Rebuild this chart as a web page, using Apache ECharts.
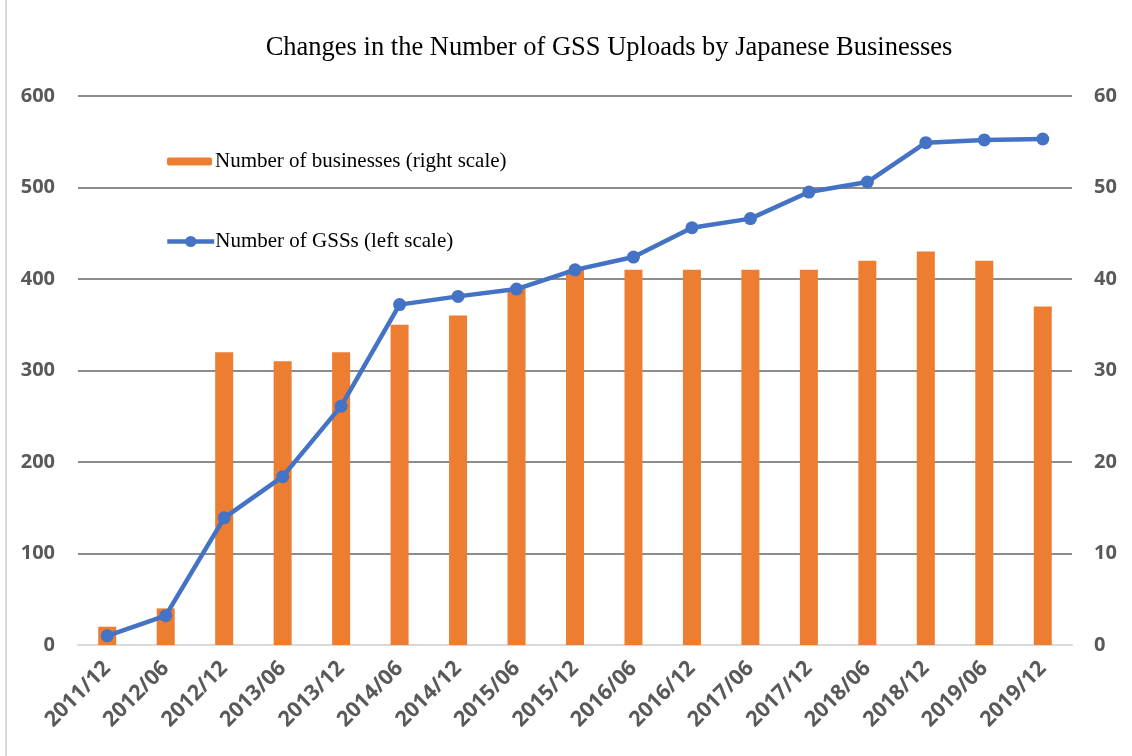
<!DOCTYPE html>
<html>
<head>
<meta charset="utf-8">
<script src="https://cdn.jsdelivr.net/npm/echarts@6/dist/echarts.min.js"></script>
<style>
  html, body { margin: 0; padding: 0; background: #fff; }
  #frame { position: absolute; left: 5px; top: 0; width: 1127px; height: 756px; border-left: 2px solid #d9d9d9; box-sizing: border-box; }
  #chart { width: 1132px; height: 756px; }
</style>
</head>
<body>
<div id="frame"></div>
<div id="chart"></div>
<script>
const categories = [
  "2011/12", "2012/06", "2012/12", "2013/06", "2013/12", "2014/06",
  "2014/12", "2015/06", "2015/12", "2016/06", "2016/12", "2017/06",
  "2017/12", "2018/06", "2018/12", "2019/06", "2019/12"
];
// right scale
const businesses = [2, 4, 32, 31, 32, 35, 36, 39, 41, 41, 41, 41, 41, 42, 43, 42, 37];
// left scale
const gssCounts = [10, 32, 139, 184, 261, 372, 381, 389, 410, 424, 456, 466, 495, 506, 549, 552, 553];

const labelColor = "#595959";
const labelFont = { color: labelColor, fontSize: 20, fontWeight: "bold", fontFamily: "Open Sans, Liberation Sans, sans-serif" };
const serifText = { fontFamily: "Liberation Serif, serif", fontSize: 21, color: "#000" };

const chart = echarts.init(document.getElementById("chart"));

chart.setOption({
  animation: false,
  title: {
    text: "Changes in the Number of GSS Uploads by Japanese Businesses",
    left: 604,
    textAlign: "center",
    top: 30,
    textStyle: { fontFamily: "Liberation Serif, serif", fontSize: 26.5, fontWeight: "normal", color: "#000" }
  },
  legend: [
    {
      data: ["Number of businesses (right scale)"],
      left: 162,
      top: 146,
      itemWidth: 45,
      itemHeight: 8,
      itemGap: 0,
      textStyle: Object.assign({ padding: [0, 0, 0, -2] }, serifText)
    },
    {
      data: ["Number of GSSs (left scale)"],
      left: 160,
      top: 226,
      itemWidth: 47,
      itemHeight: 14,
      itemGap: 0,
      lineStyle: { width: 4.5 },
      textStyle: Object.assign({ padding: [0, 0, 0, -4] }, serifText)
    }
  ],
  grid: { left: 78, right: 60, top: 96, bottom: 111 },
  xAxis: {
    type: "category",
    data: categories,
    axisLine: { lineStyle: { color: "#d9d9d9", width: 2 } },
    axisTick: { show: false },
    axisLabel: Object.assign({ rotate: 45, margin: 20, interval: 0 }, labelFont, { fontSize: 21.5 })
  },
  yAxis: [
    {
      type: "value",
      min: 0,
      max: 600,
      interval: 100,
      axisLine: { show: false },
      axisTick: { show: false },
      axisLabel: Object.assign({ margin: 23 }, labelFont),
      splitLine: { lineStyle: { color: "#8c8c8c", width: 2 } }
    },
    {
      type: "value",
      min: 0,
      max: 60,
      interval: 10,
      axisLine: { show: false },
      axisTick: { show: false },
      axisLabel: Object.assign({ margin: 22 }, labelFont),
      splitLine: { show: false }
    }
  ],
  series: [
    {
      name: "Number of businesses (right scale)",
      type: "bar",
      yAxisIndex: 1,
      data: businesses,
      barWidth: 18,
      itemStyle: { color: "#ed7d31" }
    },
    {
      name: "Number of GSSs (left scale)",
      type: "line",
      yAxisIndex: 0,
      data: gssCounts,
      symbol: "circle",
      symbolSize: 13,
      lineStyle: { color: "#4472c4", width: 4.5 },
      itemStyle: { color: "#4472c4" }
    }
  ]
});
</script>
</body>
</html>
